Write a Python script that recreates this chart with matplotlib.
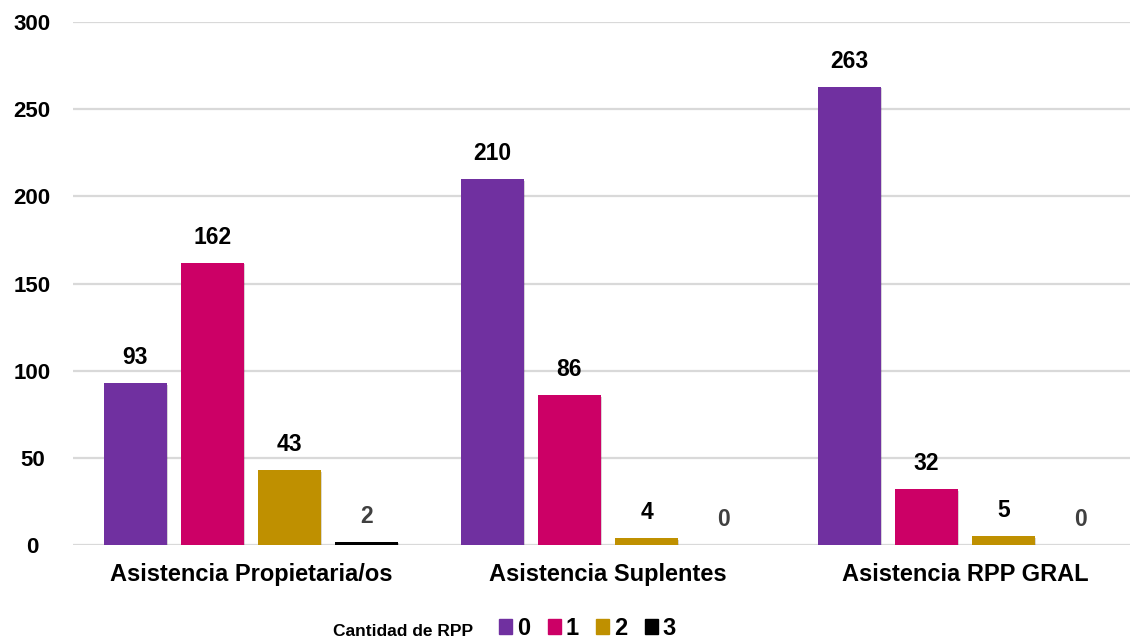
import numpy as np
import matplotlib.pyplot as plt
import matplotlib.patheffects as pe
from matplotlib.patches import Patch

categorias = ['Asistencia Propietaria/os', 'Asistencia Suplentes', 'Asistencia RPP GRAL']
series = ['0', '1', '2', '3']
rpp_0 = [93, 210, 263]
rpp_1 = [162, 86, 32]
rpp_2 = [43, 4, 5]
rpp_3 = [2, 0, 0]
valores = [rpp_0, rpp_1, rpp_2, rpp_3]
colores = ['#7030A0', '#CC0066', '#BF9000', '#000000']
color_etiqueta = ['#000000', '#000000', '#000000', '#404040']

plt.rcParams['font.family'] = ['Liberation Sans', 'DejaVu Sans']
plt.rcParams['font.weight'] = 'bold'

fig = plt.figure(figsize=(11.3, 6.38), dpi=100)
ax = fig.add_axes([72.5 / 1130, 93 / 638, 1071 / 1130, 523 / 638])

x = np.arange(len(categorias))
paso = 0.2157
ancho = 0.174
sombra = [pe.SimplePatchShadow(offset=(1.2, -1.2), alpha=0.18), pe.Normal()]
for i, (vals, col) in enumerate(zip(valores, colores)):
    pos = x + (i - 1.5) * paso
    barras = ax.bar(pos, vals, ancho, color=col, zorder=3, label=series[i],
                    path_effects=sombra)
    ax.bar_label(barras, labels=[str(v) for v in vals], padding=10,
                 fontsize=16.5, fontweight='bold', color=color_etiqueta[i])

ax.set_xlim(-0.5, 2.5)
ax.set_ylim(0, 300)
ax.set_yticks(range(0, 301, 50))
ax.yaxis.grid(True, color='#D9D9D9', linewidth=1.6, zorder=0)
for s in ax.spines.values():
    s.set_visible(False)
ax.tick_params(axis='y', length=0, labelsize=16, pad=29)
ax.tick_params(axis='x', length=0, labelsize=17, pad=13)
for t in ax.get_yticklabels():
    t.set_horizontalalignment('center')
    t.set_fontweight('bold')
ax.set_xticks(x)
ax.set_xticklabels(categorias, fontweight='bold')

fig.text(333 / 1130, 2 / 638, 'Cantidad de RPP', fontsize=12.5, fontweight='bold',
         ha='left', va='baseline')
handles = [Patch(color=c) for c in colores]
fig.legend(handles, series, loc='lower left', bbox_to_anchor=(499 / 1130, -2 / 638),
           ncol=4, frameon=False, prop={'size': 17, 'weight': 'bold'},
           borderpad=0, borderaxespad=0,
           handlelength=0.55, handleheight=0.6, handletextpad=0.21, columnspacing=0.74)

fig.savefig('out.png', dpi=100)
